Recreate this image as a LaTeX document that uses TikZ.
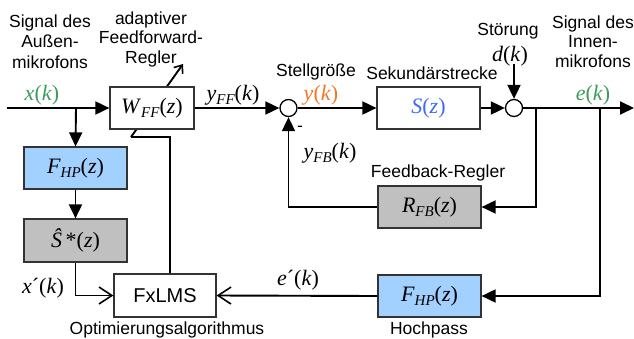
\documentclass[tikz,border=0pt]{standalone}
\usepackage{fontspec}
\setmainfont{Liberation Sans}
\newfontfamily\tms{Liberation Serif}
\usetikzlibrary{arrows.meta}
\definecolor{grn}{HTML}{3C9C5C}
\definecolor{org}{HTML}{F07828}
\definecolor{blu}{HTML}{3D6BF5}
\definecolor{bbox}{HTML}{A3D1FF}
\definecolor{gbox}{HTML}{C0C0C0}
\definecolor{bord}{HTML}{333333}
\newcommand\mth{\fontsize{22}{24}\selectfont\tms}
\newcommand\subt[1]{\raisebox{-4.5pt}{\fontsize{15}{15}\selectfont\itshape #1}}
\newcommand\tfn[3]{{\mth\textit{#1}\subt{#2}(\textit{#3})}}
\newcommand\sgn[2]{{\mth\textit{#1}(\textit{#2})}}
\tikzset{
  blk/.style={draw=bord, line width=1.2pt, rectangle, minimum width=103pt, minimum height=42pt, inner sep=0pt, fill=white},
  sumc/.style={draw=black, line width=1.3pt, circle, minimum size=17pt, inner sep=0pt, fill=white},
  lbl/.style={font=\fontsize{17.5}{20.5}\selectfont, inner sep=0pt, align=center},
  mlbl/.style={inner sep=0pt},
  ln/.style={line width=1.9pt},
  arr/.style={ln, -{Triangle[length=14pt,width=13pt]}},
  oarr/.style={ln, -{Straight Barb[length=13pt,width=17pt,line width=1.6pt]}},
  adarr/.style={line width=1.9pt, -{Straight Barb[length=7pt,width=11pt,line width=1.6pt]}}
}
\begin{document}
\begin{tikzpicture}[x=1pt,y=-1pt]
\useasboundingbox (0,0) rectangle (634,338);
% coordinates
\coordinate (in) at (7,108);
\coordinate (b1) at (76,108);
\coordinate (b2) at (536,108);
\coordinate (b3) at (600,108);
\coordinate (out) at (634,108);
\coordinate (dtop) at (514,64);
\coordinate (adA) at (131,137);
\coordinate (adB) at (183,64);
% adaptation arrow (behind W)
\draw[adarr] (adA) -- (adB);
% blocks
\node[blk, minimum width=84pt] (W) at (152,108) {\tfn{W}{FF}{z}};
\node[blk] (S) at (428.5,108) {\color{blu}\sgn{S}{z}};
\node[blk, fill=bbox] (FHP1) at (75.5,168) {\tfn{F}{HP}{z}};
\node[blk, fill=gbox, minimum height=43pt] (Shat) at (75.5,240.5) {{\mth\textit{Ŝ}\,*(\textit{z})}};
\node[blk, minimum width=102pt, minimum height=43pt, font=\fontsize{20}{24}\selectfont] (FX) at (165,295.5) {FxLMS};
\node[blk, fill=gbox] (RFB) at (429.5,207) {\tfn{R}{FB}{z}};
\node[blk, fill=bbox] (FHP2) at (429.5,296) {\tfn{F}{HP}{z}};
\node[sumc] (s1) at (288.5,108) {};
\node[sumc] (s2) at (514,108) {};
% connectors
\draw[arr] (in) -- (W.west);
\draw[arr] (b1) -- (FHP1.north);
\draw[arr] (FHP1.south) -- (Shat.north);
\draw[oarr] (Shat.south) |- (FX.west);
\draw[arr] (W.east) -- (s1.west);
\draw[arr] (s1.east) -- (S.west);
\draw[arr] (S.east) -- (s2.west);
\draw[arr] (dtop) -- (s2.north);
\draw[arr] (s2.east) -- (out);
\draw[arr] (b2) |- (RFB.east);
\draw[arr] (RFB.west) -| (s1.south);
\draw[arr] (b3) |- (FHP2.east);
\draw[oarr] (FHP2.west) -- (FX.east);
\draw[ln] ([xshift=5pt]FX.north) |- (adA);
% labels
\node[lbl, anchor=base] (t1) at (50,68) {Signal des\\Außen-\\mikrofons};
\node[lbl, anchor=base, font=\fontsize{17.5}{19.5}\selectfont] (t2) at (151,63) {adaptiver\\Feedforward-\\Regler};
\node[lbl, anchor=base, font=\fontsize{17.5}{19.5}\selectfont] (t3) at (593,67) {Signal des\\Innen-\\mikrofons};
\node[lbl, anchor=base] (t4) at (316,76) {Stellgröße};
\node[lbl, anchor=base] (t5) at (432,79) {Sekundärstrecke};
\node[lbl, anchor=base] (t6) at (508,35) {Störung};
\node[lbl, anchor=base] (t7) at (438,177) {Feedback-Regler};
\node[lbl, anchor=base] (t8) at (429,334) {Hochpass};
\node[lbl, anchor=base] (t9) at (167,334) {Optimierungsalgorithmus};
\node[mlbl, anchor=base, text=grn] (m1) at (42,100) {\sgn{x}{k}};
\node[mlbl, anchor=base] (m2) at (233,100) {\tfn{y}{FF}{k}};
\node[mlbl, anchor=base, text=org] (m3) at (321,100) {\sgn{y}{k}};
\node[mlbl, anchor=base] (m4) at (510,61) {\sgn{d}{k}};
\node[mlbl, anchor=base, text=grn] (m5) at (593,100) {\sgn{e}{k}};
\node[mlbl, anchor=base] (m6) at (330,158) {\tfn{y}{FB}{k}};
\node[mlbl, anchor=base] (m7) at (43,293) {{\mth\textit{x}´(\textit{k})}};
\node[mlbl, anchor=base] (m8) at (298,285) {{\mth\textit{e}´(\textit{k})}};
\node[lbl, anchor=base] (mn) at (300,131) {-};
\end{tikzpicture}
\end{document}
